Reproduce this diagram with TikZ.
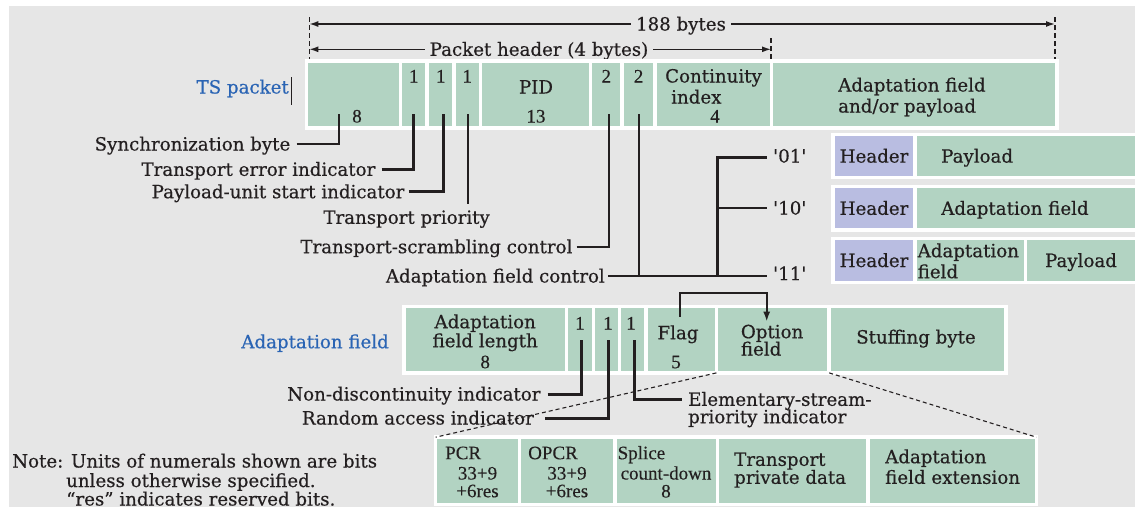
\documentclass[tikz,border=0pt]{standalone}
\usepackage{fontspec}
\setmainfont{DejaVu Serif}[FakeBold=0.5]
\newfontfamily\numfont{Liberation Serif}[FakeBold=0.3]
\usetikzlibrary{arrows.meta}
\definecolor{bg}{HTML}{E6E6E6}
\definecolor{boxgreen}{HTML}{B2D3C2}
\definecolor{boxpurple}{HTML}{B9BDE1}
\definecolor{ink}{HTML}{231F20}
\definecolor{tsblue}{HTML}{2A64B4}
\newcommand\sq{\XeTeXglyph\the\XeTeXcharglyph"27\relax}
\newcommand\cellbox[6]{\node[#6, minimum width={#4-#2}, minimum height={#5-#3}] (#1) at (#2,#3) {};}
\begin{document}
\begin{tikzpicture}[x=1pt,y=-1pt,
  cellg/.style={fill=boxgreen, draw=white, line width=3.6pt, outer sep=0pt, inner sep=0pt, anchor=north west},
  cellp/.style={cellg, fill=boxpurple},
  lbl/.style={inner sep=0pt, text=ink, font=\fontsize{18.2}{20}\selectfont, text height=13pt, text depth=0pt},
  num/.style={lbl, font=\numfont\fontsize{19}{20}\selectfont},
  bluelbl/.style={lbl, text=tsblue},
  lead/.style={draw=ink, line width=2.2pt},
  leadt/.style={draw=ink, line width=3pt},
  leadthin/.style={draw=ink, line width=1.6pt},
  dimline/.style={draw=ink, line width=1.4pt, {Latex[length=9pt,width=6pt]}-{Latex[length=9pt,width=6pt]}},
  dimdash/.style={draw=ink, line width=1.2pt, dash pattern=on 5pt off 3pt},
  zoomdash/.style={draw=ink, line width=1.1pt, dash pattern=on 4pt off 3pt},
  flagarrow/.style={draw=ink, line width=2pt, -{Latex[length=10pt,width=7pt]}}
]
\useasboundingbox (0,0) rectangle (1135,509);
\fill[white] (0,0) rectangle (1135,509);
\fill[bg] (9,6) rectangle (1135,507);

% ---------- dimension lines ----------
\coordinate (d1l) at (309.3,24); \coordinate (d1r) at (1055,24);
\coordinate (d2l) at (309.3,49.3); \coordinate (d2r) at (771,49.3);
\draw[dimline] (d1l) -- (d1r);
\draw[dimline] (d2l) -- (d2r);
\node[lbl, fill=bg, inner xsep=5pt] (t188) at (681,24) {188 bytes};
\node[lbl, fill=bg, inner xsep=5pt] (thdr) at (539,49.3) {Packet header (4 bytes)};
\coordinate (v1a) at (309.3,17); \coordinate (v1b) at (309.3,61);
\coordinate (v2a) at (771,38);   \coordinate (v2b) at (771,61);
\coordinate (v3a) at (1055,17);  \coordinate (v3b) at (1055,61);
\draw[dimdash] (v1a) -- (v1b);
\draw[dimdash] (v2a) -- (v2b);
\draw[dimdash] (v3a) -- (v3b);

% ---------- TS packet row ----------
\cellbox{ts8}{306.5}{61}{400.6}{128}{cellg}
\cellbox{tsa}{400.6}{61}{427.2}{128}{cellg}
\cellbox{tsb}{427.2}{61}{454}{128}{cellg}
\cellbox{tsc}{454}{61}{480.6}{128}{cellg}
\cellbox{tspid}{480.6}{61}{590.6}{128}{cellg}
\cellbox{tsd}{590.6}{61}{622}{128}{cellg}
\cellbox{tse}{622}{61}{655.1}{128}{cellg}
\cellbox{tscc}{655.1}{61}{771.3}{128}{cellg}
\cellbox{tsaf}{771.3}{61}{1057}{128}{cellg}

\node[bluelbl, anchor=east] (tslab) at (289,87) {TS packet};
\coordinate (cur1) at (291,77); \coordinate (cur2) at (291,105);
\draw[ink, line width=1pt] (cur1) -- (cur2);

\node[num] (n8) at (357,116) {8};
\node[num] (n1a) at (413.8,76) {1};
\node[num] (n1b) at (440.8,76) {1};
\node[num] (n1c) at (467.3,76) {1};
\node[lbl] (npid) at (536,87) {PID};
\node[num] (n13) at (536,116) {13};
\node[num] (n2a) at (606.3,76) {2};
\node[num] (n2b) at (638.6,76) {2};
\node[lbl, anchor=west] (ncont) at (665,76) {Continuity};
\node[lbl, anchor=west] (nindex) at (671,97) {index};
\node[num] (n4) at (715,116) {4};
\node[lbl, anchor=west] (naf1) at (838,85) {Adaptation field};
\node[lbl, anchor=west] (naf2) at (838,106) {and/or payload};

% ---------- TS leaders ----------
\coordinate (p8) at (339,114);
\coordinate (pa) at (413.8,114);
\coordinate (pb) at (443,114);
\coordinate (pc) at (468,114);
\coordinate (pd) at (609,114);
\coordinate (pe) at (638.6,114);

\node[lbl, anchor=east] (lsync) at (290.5,144) {Synchronization byte};
\draw[lead] ([xshift=6pt]lsync.east) -| (p8);
\node[lbl, anchor=east] (lerr) at (375.5,169.3) {Transport error indicator};
\draw[leadt] ([xshift=6pt]lerr.east) -| (pa);
\node[lbl, anchor=east] (lpus) at (404.6,191.7) {Payload-unit start indicator};
\draw[leadt] ([xshift=4pt]lpus.east) -| (pb);
\node[lbl] (lprio) at (406.6,217.3) {Transport priority};
\coordinate (pcend) at (468,203.5);
\draw[leadthin] (pc) -- (pcend);
\node[lbl, anchor=east] (lscr) at (572.6,246.7) {Transport-scrambling control};
\draw[lead] ([xshift=4pt]lscr.east) -| (pd);
\node[lbl, anchor=east] (lafc) at (605,276) {Adaptation field control};
\coordinate (t11) at (767,276);
\draw[lead] ([xshift=3pt]lafc.east) -- (t11);
\coordinate (tj) at (638.6,276);
\draw[lead] (pe) -- (tj);

% tree
\coordinate (tb) at (717,276);
\coordinate (tm) at (717,208);
\coordinate (t01) at (767,157);
\coordinate (t10) at (767,208);
\draw[leadt] (tb) |- (t01);
\draw[lead] (tm) -- (t10);
\node[lbl, anchor=west] (q01) at (773,156) {\sq01\sq};
\node[lbl, anchor=west] (q10) at (773,208) {\sq10\sq};
\node[lbl, anchor=west] (q11) at (773,273.5) {\sq11\sq};

% ---------- header variants ----------
\cellbox{h1h}{832.7}{134.6}{915.2}{177.6}{cellp}
\cellbox{h1p}{915.2}{134.6}{1138}{177.6}{cellg}
\cellbox{h2h}{832.7}{186.6}{915.2}{230}{cellp}
\cellbox{h2a}{915.2}{186.6}{1138}{230}{cellg}
\cellbox{h3h}{832.7}{238.6}{915.2}{282.5}{cellp}
\cellbox{h3a}{915.2}{238.6}{1025.3}{282.5}{cellg}
\cellbox{h3p}{1025.3}{238.6}{1138}{282.5}{cellg}
\node[lbl] (h1t) at (874,156.1) {Header};
\node[lbl] (h2t) at (874,208.3) {Header};
\node[lbl] (h3t) at (874,260.5) {Header};
\node[lbl, anchor=west] (h1pt) at (941,156.1) {Payload};
\node[lbl, anchor=west] (h2at) at (941,208.3) {Adaptation field};
\node[lbl, anchor=west] (h3at1) at (917.5,250.7) {Adaptation};
\node[lbl, anchor=west] (h3at2) at (917.5,271.7) {field};
\node[lbl] (h3pt) at (1081,260.5) {Payload};

% ---------- adaptation field row ----------
\cellbox{afl}{404}{306.3}{566.4}{372.9}{cellg}
\cellbox{af1}{566.4}{306.3}{593.3}{372.9}{cellg}
\cellbox{af2}{593.3}{306.3}{619.4}{372.9}{cellg}
\cellbox{af3}{619.4}{306.3}{645.9}{372.9}{cellg}
\cellbox{afflag}{645.9}{306.3}{716.4}{372.9}{cellg}
\cellbox{afopt}{716.4}{306.3}{829.2}{372.9}{cellg}
\cellbox{afstuff}{829.2}{306.3}{1006}{372.9}{cellg}

\node[bluelbl, anchor=east] (aflab) at (389,341.7) {Adaptation field};
\node[lbl] (afl1) at (485.2,321.7) {Adaptation};
\node[lbl] (afl2) at (485.2,340.7) {field length};
\node[num] (afl3) at (485.2,361.7) {8};
\node[num] (af1t) at (579.9,323) {1};
\node[num] (af2t) at (608,323) {1};
\node[num] (af3t) at (631,323) {1};
\node[lbl] (flagt) at (678,332.7) {Flag};
\node[num] (flagn) at (676,361.7) {5};
\node[lbl, anchor=west] (opt1) at (740.7,331.7) {Option};
\node[lbl, anchor=west] (opt2) at (740.7,349) {field};
\node[lbl] (stuff) at (916,337) {Stuffing byte};

\coordinate (fa) at (680,316.7);
\coordinate (fmid) at (720,292.7);
\coordinate (fb) at (766.7,321.7);
\draw[flagarrow] (fa) |- (fmid) -| (fb);

% leaders
\coordinate (q1) at (581.4,340);
\coordinate (q2) at (608.3,340);
\coordinate (q3) at (634,340);
\node[lbl, anchor=east] (lnd) at (540.7,394) {Non-discontinuity indicator};
\draw[leadt] ([xshift=7pt]lnd.east) -| (q1);
\node[lbl, anchor=east] (lra) at (534,418) {Random access indicator};
\draw[leadt] ([xshift=11pt]lra.east) -| (q2);
\coordinate (esend) at (681.7,399);
\draw[leadt] (q3) |- (esend);
\node[lbl, anchor=west] (les1) at (688,399.3) {Elementary-stream-};
\node[lbl, anchor=west] (les2) at (688,416.7) {priority indicator};

% ---------- option field detail ----------
\cellbox{bpcr}{435.6}{437.2}{519.5}{504.5}{cellg}
\cellbox{bopcr}{519.5}{437.2}{614.7}{504.5}{cellg}
\cellbox{bspl}{614.7}{437.2}{717.6}{504.5}{cellg}
\cellbox{btpd}{717.6}{437.2}{867.7}{504.5}{cellg}
\cellbox{bext}{867.7}{437.2}{1036.5}{504.5}{cellg}
\draw[zoomdash] (afopt.south west) -- (bpcr.north west);
\draw[zoomdash] (afstuff.south west) -- (bext.north east);

\node[num, anchor=west] (pcr1) at (445,452.7) {PCR};
\node[num] (pcr2) at (477.5,473) {33+9};
\node[num] (pcr3) at (477.5,490.7) {+6res};
\node[num, anchor=west] (opcr1) at (528,452.7) {OPCR};
\node[num] (opcr2) at (567,473) {33+9};
\node[num] (opcr3) at (567,490.7) {+6res};
\node[num, anchor=west] (spl1) at (617.5,452.7) {Splice};
\node[num] (spl2) at (666,473) {count-down};
\node[num] (spl3) at (666,491) {8};
\node[lbl, anchor=west] (tpd1) at (734,459.3) {Transport};
\node[lbl, anchor=west] (tpd2) at (734,477.3) {private data};
\node[lbl, anchor=west] (ext1) at (885,456.7) {Adaptation};
\node[lbl, anchor=west] (ext2) at (885,477.3) {field extension};

% ---------- note ----------
\node[lbl, anchor=west] (note1) at (12,461) {Note: Units of numerals shown are bits};
\node[lbl, anchor=west] (note2) at (66,480.5) {unless otherwise specified.};
\node[lbl, anchor=west] (note3) at (66,499) {“res” indicates reserved bits.};
\end{tikzpicture}
\end{document}
